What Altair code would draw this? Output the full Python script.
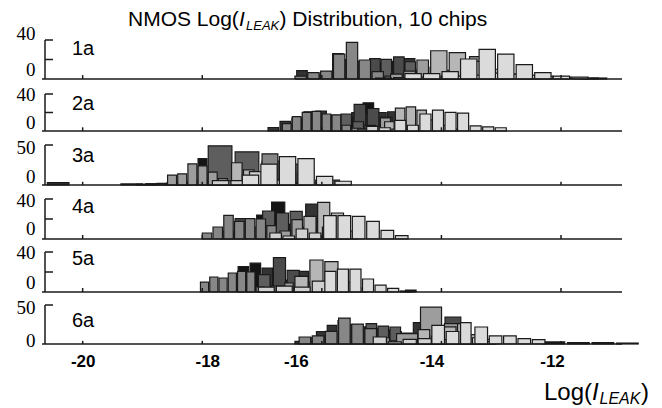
import altair as alt
import pandas as pd

# ---------------- data ----------------
panel_labels = ["1a", "2a", "3a", "4a", "5a", "6a"]
panel_top = [40, 40, 50, 40, 40, 50]
panel_mid = [20, 20, None, 20, 20, None]
x_ticks = [-20, -18, -16, -14, -12]
chip_ids = [f"chip{i + 1}" for i in range(10)]

title_parts = ["NMOS Log(", "I", "LEAK", ") Distribution, 10 chips"]
xlabel_parts = ["Log(", "I", "LEAK", ")"]

# chip index: (first bin start, bin step, counts per bin)  -- log10(I_leak) histograms
chips_1a = {
    0: (-14.64, 0.30, [2, 0, 0, 0, 0, 0, 0, 0, 0, 0, 1]),
    1: (-16.42, 0.20, [8.5, 5, 7, 26, 20, 18, 17, 16, 18, 20.8, 8, 3, 1]),
    2: (-15.20, 0.20, [20.8, 15, 22.6, 10, 5, 2]),
    3: (-15.01, 0.20, [20.2, 0, 17.7, 6, 2]),
    4: (-16.45, 0.215, [3, 6.5, 8, 25.6, 37.6, 19.5, 7.5, 3, 1]),
    5: (-14.85, 0.22, [5, 8, 19.5, 12, 9, 6, 23, 8, 3]),
    6: (-14.18, 0.31, [29, 27, 18, 10, 5, 2]),
    8: (-15.10, 0.30, [1, 1.5, 2, 2, 3, 4, 6, 5, 4, 3, 2, 1.5, 1]),
    9: (-14.61, 0.31, [5.5, 5.5, 7.5, 20.5, 30.4, 25.6, 14.7, 6.5, 3, 2]),
}
chips_2a = {
    0: (-15.31, 0.20, [30.5, 8, 3]),
    1: (-16.90, 0.20, [3.8, 10.4, 14, 20.8, 21.6, 17, 16, 20, 18, 20, 20.8, 8, 3]),
    2: (-15.90, 0.22, [5, 15, 28.8, 24.3, 15, 8, 3]),
    3: (-15.68, 0.20, [18.4, 10, 6, 3]),
    4: (-16.66, 0.166, [8, 15.6, 20.1, 21.2, 18.4, 17.4, 6.2, 3, 2]),
    5: (-15.40, 0.19, [2, 5, 14.2, 10, 6, 3]),
    6: (-14.95, 0.18, [10, 24.7, 26, 22.6, 12, 6, 2]),
    8: (-15.25, 0.21, [5, 3.5, 2, 1.5]),
    9: (-14.78, 0.21, [11.5, 6.2, 18.4, 22.6, 20.1, 19.4, 5.5, 4.5, 3.5]),
}
chips_3a = {
    0: (-18.41, 0.17, [3, 5, 33, 8, 3]),
    1: (-20.59, 0.41, [3, 0, 0, 1.3, 1.5, 3, 6, 3, 1]),
    2: (-19.10, 0.17, [1, 1.5, 2, 3, 4]),
    3: (-17.90, 0.45, [49, 41.5, 30, 26, 6]),
    4: (-17.00, 0.30, [39, 15, 17.5, 5]),
    5: (-18.58, 0.17, [12.4, 14, 26.5, 24, 16, 8, 5, 3]),
    6: (-17.51, 0.20, [27.8, 19, 14, 0, 8, 3]),
    8: (-17.83, 0.31, [5.5, 5.5, 16.7, 6, 2]),
    9: (-17.33, 0.31, [12.4, 26, 35.5, 33, 10.7, 4.7]),
}
chips_4a = {
    0: (-17.09, 0.25, [24, 37, 15, 5]),
    1: (-16.52, 0.25, [12, 35, 10, 4]),
    2: (-17.70, 0.25, [8, 20.3, 12, 5]),
    3: (-16.99, 0.23, [28, 26, 27.7, 10, 4]),
    4: (-18.00, 0.18, [6, 12, 23.7, 17.7, 20.3, 20, 13.3, 5, 2]),
    5: (-16.70, 0.20, [8, 19.3, 10, 5]),
    6: (-16.30, 0.23, [22.7, 36.7, 26, 8]),
    8: (-16.87, 0.22, [6, 3, 10, 6, 12]),
    9: (-15.97, 0.24, [23.3, 23.3, 22.7, 17.7, 8.7, 3.3]),
}
chips_5a = {
    0: (-17.40, 0.20, [25.5, 28.8, 10, 5, 3, 0, 0, 0, 0, 0, 0, 0, 0, 0, 2]),
    1: (-17.00, 0.20, [23.9, 15, 12, 20.6, 10, 4]),
    2: (-16.81, 0.23, [34.3, 21.6, 8, 3]),
    3: (-17.06, 0.22, [17.3, 6, 3]),
    4: (-18.03, 0.155, [9.8, 15, 14, 19, 20.6, 20, 5, 2]),
    5: (-16.62, 0.16, [9, 5, 3]),
    6: (-16.45, 0.25, [15.7, 32, 30.4, 10, 4]),
    8: (-17.06, 0.30, [4.9, 5.9, 4.9, 10.8]),
    9: (-15.95, 0.21, [20.6, 22.9, 22.9, 13, 6.9, 3.6, 1]),
}
chips_6a = {
    0: (-12.30, 0.41, [2.6, 1.7, 1.7, 1.2]),
    1: (-16.45, 0.18, [3.4, 8, 16, 24, 30, 25, 22, 20, 18, 16, 14, 27.4, 10, 4]),
    2: (-14.24, 0.30, [10, 34.6, 12, 5]),
    3: (-15.26, 0.20, [26, 23, 21.8, 8]),
    4: (-16.38, 0.22, [9, 10.3, 16.2, 33.3, 25.6, 19.7, 8, 4]),
    5: (-14.75, 0.40, [13.2, 47.4, 26, 3]),
    6: (-14.39, 0.22, [18.4, 10, 22, 26, 12, 6]),
    7: (-13.68, 0.20, [27.4, 8, 3]),
    8: (-15.14, 0.25, [9, 2.6, 6, 6.8, 5.5]),
    9: (-14.16, 0.24, [24, 16, 0, 21.8, 10.3, 10.3, 6.8, 5.5]),
}
panel_chips = [chips_1a, chips_2a, chips_3a, chips_4a, chips_5a, chips_6a]

# ---------------- styles / layout ----------------
chip_grays = ["#141414", "#333333", "#4b4b4b", "#5e5e5e", "#878787",
              "#9d9d9d", "#b6b6b6", "#dadada", "#d0d0d0", "#dbdbdb"]
INK = "#1a1a1a"
SANS = "Liberation Sans, Arial, sans-serif"
SERIF = "Liberation Serif, Times New Roman, Times, serif"
BAR_FILL = 0.88
W, H = 577, 304
base_px = [39, 91, 145, 199, 252, 304]
h_px = [39, 37, 40, 40, 40, 39]
lab_off = [(-6.5, -9.5), (0, -9), (2, -9), (1, -11), (0, -9.5), (2, -4)]
name_y = [15, 70, 122, 173, 225, 287]

rows = []
for p, chips in zip(panel_labels, panel_chips):
    for k in sorted(chips):
        start, step, counts = chips[k]
        for j, c in enumerate(counts):
            if c > 0:
                lo = start + j * step
                rows.append({"panel": p, "chip": chip_ids[k], "lo": lo,
                             "hi": lo + step * BAR_FILL, "count": c, "zero": 0})
bars = pd.DataFrame(rows)

xsc = alt.Scale(domain=[-20.63, -10.98], nice=False, zero=False)
xaxis = alt.Axis(
    orient="bottom", values=x_ticks, domain=False, ticks=False, tickSize=0, grid=False,
    labelFont=SANS, labelFontWeight="bold", labelFontSize=17, labelColor="black",
    labelPadding=9, labelFlush=False, labelOverlap=False, title=None,
    labelExpr="datum.value < 0 ? '-' + (-datum.value) : '' + datum.value",
    labelOffset={"expr": "datum.value == -18 ? 5 : datum.value == -16 ? -26 : "
                         "datum.value == -14 ? -10 : datum.value == -12 ? -9 : 0"},
)
color = alt.Color("chip:N", scale=alt.Scale(domain=chip_ids, range=chip_grays), legend=None)

layers = []
for i, p in enumerate(panel_labels):
    top = panel_top[i]
    ysc = alt.Scale(domain=[0, top], range=[base_px[i], base_px[i] - h_px[i]],
                    nice=False, zero=False)
    t_off, z_off = lab_off[i]
    yaxis = alt.Axis(
        orient="left", values=[0, top], domain=False, ticks=False, tickSize=0, grid=False,
        labelFont=SERIF, labelFontSize=19, labelColor="black", labelPadding=10,
        labelFlush=False, labelOverlap=False, title=None,
        labelOffset={"expr": f"datum.value == 0 ? {z_off} : {t_off}"},
    )
    d = bars[bars.panel == p]
    layers.append(
        alt.Chart(d).mark_rect(stroke=INK, strokeWidth=1.2).encode(
            x=alt.X("lo:Q", scale=xsc, axis=xaxis), x2="hi",
            y=alt.Y("count:Q", scale=ysc, axis=yaxis), y2="zero",
            color=color,
        )
    )
    # baseline
    layers.append(
        alt.Chart(pd.DataFrame({"a": [0]})).mark_rule(color=INK, strokeWidth=1.6).encode(
            x=alt.value(-3), x2=alt.value(W), y=alt.Y("a:Q", scale=ysc, axis=None)
        )
    )
    # left bracket
    layers.append(
        alt.Chart(pd.DataFrame({"a": [0], "b": [top]})).mark_rule(color=INK, strokeWidth=1.5).encode(
            x=alt.value(0), y=alt.Y("a:Q", scale=ysc, axis=None), y2="b"
        )
    )
    tk = [top] + ([panel_mid[i]] if panel_mid[i] is not None else [])
    layers.append(
        alt.Chart(pd.DataFrame({"t": tk})).mark_rule(color=INK, strokeWidth=1.5).encode(
            x=alt.value(0), x2=alt.value(8), y=alt.Y("t:Q", scale=ysc, axis=None)
        )
    )
    # x ticks (inward)
    layers.append(
        alt.Chart(pd.DataFrame({"v": x_ticks, "a": [0] * 5, "b": [4] * 5})).mark_rule(
            color=INK, strokeWidth=1.5).encode(
            x=alt.X("v:Q", scale=xsc, axis=xaxis),
            y=alt.Y("a:Q", scale=ysc, axis=None), y2="b"
        )
    )
    # panel name
    layers.append(
        alt.Chart(pd.DataFrame({"name": [p]})).mark_text(
            align="left", baseline="alphabetic", font=SANS, fontSize=20, color="black"
        ).encode(x=alt.value(27), y=alt.value(name_y[i]), text="name:N")
    )


def piece(txt, x, y, size, italic=False):
    return alt.Chart(pd.DataFrame({"t": [txt]})).mark_text(
        align="left", baseline="alphabetic", font=SANS, fontSize=size,
        fontStyle="italic" if italic else "normal", color="black"
    ).encode(x=alt.value(x), y=alt.value(y), text="t:N")


# title: NMOS Log(I_LEAK) Distribution, 10 chips
layers += [
    piece(title_parts[0], 83, -14, 21),
    piece(title_parts[1], 194, -14, 21, True),
    piece(title_parts[2], 201, -10, 13, True),
    piece(title_parts[3], 234.5, -14, 21),
]
# x-axis title: Log(I_LEAK)
layers += [
    piece(xlabel_parts[0], 499, 360, 24),
    piece(xlabel_parts[1], 547, 360, 24, True),
    piece(xlabel_parts[2], 554.5, 364, 16, True),
    piece(xlabel_parts[3], 596, 360, 24),
]

chart = (
    alt.layer(*layers)
    .resolve_scale(y="independent")
    .properties(
        width=W, height=H,
        autosize=alt.AutoSizeParams(type="none"),
        padding={"left": 45, "top": 40, "right": 40, "bottom": 64},
        background="white",
    )
    .configure_view(stroke=None)
)

chart.save("out.html", embed_options={"renderer": "svg", "actions": False})
